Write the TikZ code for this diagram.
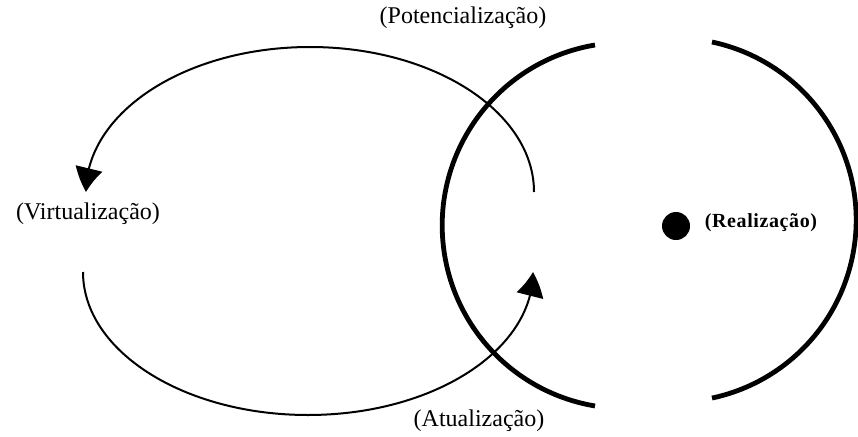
\documentclass[tikz,border=0pt]{standalone}
\usepackage{fontspec}
\setmainfont{Liberation Serif}
\newfontfamily\spacedserif[LetterSpace=3]{Liberation Serif}
\usetikzlibrary{arrows.meta,bending}
\begin{document}
\begin{tikzpicture}[x=1pt,y=-1pt,
  thickarc/.style={line width=4.8pt},
  loopline/.style={line width=2pt},
  head/.style={-{Triangle[length=24pt,width=27pt,bend]}},
  lbl/.style={inner sep=0pt,font=\fontsize{24}{26}\selectfont},
  smalllbl/.style={inner sep=0pt,font=\spacedserif\fontsize{20}{22}\selectfont\bfseries}]
\useasboundingbox (0,0) rectangle (858,436);
% thick arcs
\coordinate (ltop) at (595,45);
\coordinate (rtop) at (712,42);
\draw[thickarc] (ltop) arc[start angle=99.5,end angle=260.5,radius=183pt];
\draw[thickarc] (rtop) arc[start angle=78,end angle=-78,radius=182pt];
% loop
\coordinate (ustart) at (534,192);
\coordinate (lstart) at (83,272);
\draw[loopline,head] (ustart) arc[start angle=0,end angle=180,x radius=224pt,y radius=145pt];
\draw[loopline,head] (lstart) arc[start angle=180,end angle=360,x radius=225pt,y radius=143pt];
% dot
\node[circle,fill=black,minimum size=28pt,inner sep=0pt] (dot) at (676,226) {};
% labels
\node[lbl] (pot) at (463,18) {(Potencialização)};
\node[lbl] (vir) at (88,214) {(Virtualização)};
\node[lbl] (atu) at (479,421) {(Atualização)};
\node[smalllbl] (rea) at (761,223) {(Realização)};
\end{tikzpicture}
\end{document}
